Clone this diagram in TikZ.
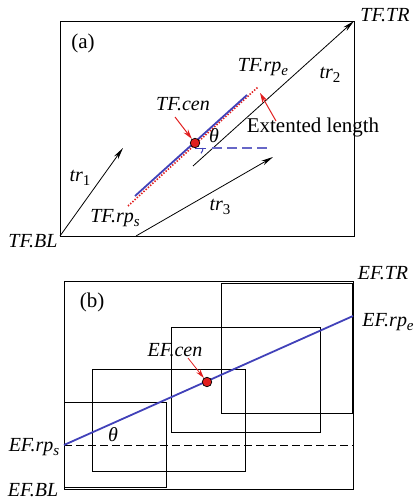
\documentclass[tikz,border=0pt]{standalone}
\usepackage{fontspec}
\setmainfont{Liberation Serif}
\usetikzlibrary{arrows.meta}
\definecolor{lblue}{RGB}{65,65,185}
\definecolor{lred}{RGB}{225,30,30}
\newcommand{\lsub}[1]{\raisebox{-0.45ex}{\fontsize{15}{15}\selectfont #1}}
\tikzset{
  lbl/.style={font=\fontsize{20}{22}\selectfont\itshape, inner sep=0pt},
  rlbl/.style={font=\fontsize{21}{23}\selectfont, inner sep=0pt},
  frame/.style={draw=black, line width=0.9pt},
  vec/.style={draw=black, line width=0.8pt, -{Stealth[length=12pt,width=5pt]}},
  redarrow/.style={draw=lred, line width=1pt, -{Stealth[length=10pt,width=5.5pt]}},
  bluel/.style={draw=lblue, line width=1.8pt},
  reddot/.style={draw=lred, line width=1.6pt, dash pattern=on 1.4pt off 1.6pt},
  cdot/.style={circle, fill=lred, draw=black, line width=0.7pt, minimum size=9.5pt, inner sep=0pt},
}
\begin{document}
\begin{tikzpicture}[x=1pt,y=-1pt]
\useasboundingbox (0,0) rectangle (414,500);
% ---------- panel (a)
\coordinate (TBL) at (60,236);
\coordinate (TTR) at (354,21);
\draw[frame] (TBL) rectangle (TTR);
\node[rlbl] (pa) at (83,43) {(a)};
% trajectories
\coordinate (t1s) at (60,236);
\coordinate (t1e) at (123,148);
\coordinate (t2s) at (193,166);
\coordinate (t3s) at (136,236);
\coordinate (t3e) at (273,157);
\draw[vec] (t1s) -- (t1e);
\draw[vec] (t2s) -- (TTR);
\draw[vec] (t3s) -- (t3e);
\node[lbl] (tr1) at (80,178) {tr\lsub{\upshape 1}};
\node[lbl] (tr2) at (330,75) {tr\lsub{\upshape 2}};
\node[lbl] (tr3) at (220,207) {tr\lsub{\upshape 3}};
% fitted line
\coordinate (rs) at (128,206);
\coordinate (re) at (258,87);
\draw[reddot] (rs) -- (re);
\coordinate (bs) at (135,196);
\coordinate (be) at (247,95);
\draw[bluel] (bs) -- (be);
\coordinate (hz0) at (195,148);
\coordinate (hz1) at (206,148);
\coordinate (hd0) at (212,148);
\coordinate (hd1) at (270,148);
\draw[draw=lblue, line width=1pt] (hz0) -- (hz1);
\draw[draw=lblue, line width=1pt] (203,148) arc[start angle=0, end angle=42, radius=8];
\draw[draw=lblue!80, line width=1.1pt, dash pattern=on 10pt off 5pt] (hd0) -- (hd1);
\node[cdot] (cen) at (195,143) {};
\node[lbl] (th) at (214,136) {θ};
\coordinate (ca) at (175,117);
\draw[redarrow] (ca) -- (cen);
\node[lbl] (tcen) at (183,104) {TF.cen};
\node[lbl] (trpe) at (263,67) {TF.rp\lsub{e}};
\node[lbl] (trps) at (115,218) {TF.rp\lsub{s}};
\coordinate (ela) at (276,121);
\coordinate (elb) at (260,93);
\draw[redarrow] (ela) -- (elb);
\node[rlbl] (ext) at (313,127) {Extented length};
\node[lbl] (tbl) at (33,241) {TF.BL};
\node[lbl] (ttr) at (385,15) {TF.TR};
% ---------- panel (b)
\coordinate (EBL) at (64,489);
\coordinate (ETR) at (353,281);
\draw[frame] (EBL) rectangle (ETR);
\node[rlbl] (pb) at (92,302) {(b)};
\draw[frame] (64,402) rectangle (166,487);
\draw[frame] (92,369) rectangle (245,471);
\draw[frame] (171,327) rectangle (320,432);
\draw[frame] (221,283) rectangle (352,413);
\coordinate (ers) at (64,445);
\coordinate (ere) at (353,316);
\coordinate (erh) at (353,445);
\draw[draw=black, line width=0.9pt, dash pattern=on 8pt off 4pt] (ers) -- (erh);
\draw[bluel] (ers) -- (ere);
\node[cdot] (ecen) at (207,382) {};
\coordinate (eca) at (188,358);
\draw[draw=lred, line width=0.8pt, -{Stealth[length=9pt,width=5pt]}] (eca) -- (ecen);
\node[lbl] (ecenl) at (175,350) {EF.cen};
\node[lbl] (eth) at (113,435) {θ};
\node[lbl] (etr) at (383,273) {EF.TR};
\node[lbl] (erpe) at (388,322) {EF.rp\lsub{e}};
\node[lbl] (erps) at (34,447) {EF.rp\lsub{s}};
\node[lbl] (ebl) at (33,490) {EF.BL};
\end{tikzpicture}
\end{document}
